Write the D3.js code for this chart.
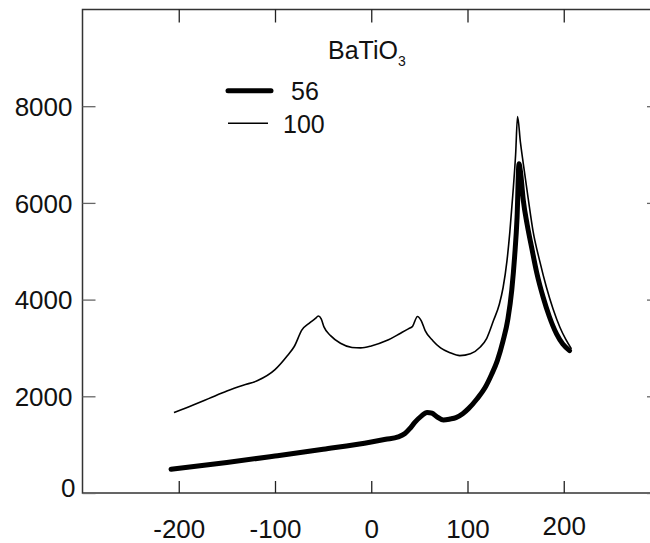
<!DOCTYPE html>
<html>
<head>
<meta charset="utf-8">
<style>
  body { margin: 0; background: #fff; }
  text { font-family: Arial, "Liberation Sans", sans-serif; fill: #111; }
</style>
</head>
<body>
<div id="chart-area"></div>

<script src="https://cdn.jsdelivr.net/npm/d3@7"></script>
<script>

    // sample 56 (thick line)
    var temp56 = [-208, -150, -100, -50, 0, 15, 28, 35, 40, 45, 52, 58, 63, 68, 75, 82, 88, 95, 101, 110, 118, 125, 131, 137, 142, 146, 149, 151.5, 153.5, 155, 158, 162, 166.6, 172, 178.6, 185, 192.5, 199, 206];
    var eps56  = [490, 630, 765, 905, 1055, 1110, 1160, 1230, 1330, 1456, 1590, 1667, 1650, 1580, 1510, 1530, 1559, 1640, 1745, 1950, 2170, 2450, 2738, 3150, 3600, 4200, 4900, 5700, 6810, 6650, 6048, 5550, 5082, 4550, 4048, 3650, 3290, 3080, 2945];

    // sample 100 (thin line)
    var temp100 = [-205, -185, -169, -150, -133, -118, -100, -87, -80, -72, -64, -58, -55, -52, -49, -42, -32, -20, -11, 0, 16, 30, 39, 43, 48, 52, 56, 64, 72, 82, 92, 103, 113, 120, 127, 133, 137, 141, 144, 147, 150, 152, 155, 158, 163, 168, 175, 182, 189, 196, 202, 208];
    var eps100  = [1663, 1820, 1952, 2110, 2230, 2325, 2550, 2842, 3030, 3373, 3520, 3610, 3660, 3600, 3430, 3250, 3096, 3010, 3001, 3040, 3152, 3300, 3400, 3450, 3650, 3560, 3359, 3150, 3000, 2900, 2842, 2880, 3014, 3200, 3566, 3900, 4250, 4800, 5400, 6150, 7000, 7785, 7250, 6807, 6100, 5427, 4800, 4255, 3800, 3427, 3180, 2980];

    var xTicks = [-200, -100, 0, 100, 200];
    var yTicks = [0, 2000, 4000, 6000, 8000];
    var legendLabels = ["56", "100"];

    const width = 650;
    const height = 543;

    const svg = d3.select("#chart-area")
        .append("svg")
            .attr("width", width)
            .attr("height", height);

    const x = d3.scaleLinear().domain([-300, 300]).range([82.5, 660]);
    const y = d3.scaleLinear().domain([0, 10000]).range([493, 9.5]);

    // frame (right side falls outside the picture)
    svg.append("rect")
        .attr("x", x(-300)).attr("y", y(10000))
        .attr("width", x(300) - x(-300)).attr("height", y(0) - y(10000))
        .attr("fill", "none")
        .attr("stroke", "#333")
        .attr("stroke-width", 1.5);

    // bottom axis: inward ticks + labels
    const xb = svg.append("g").attr("transform", `translate(0, ${y(0)})`)
        .call(d3.axisBottom(x).tickValues(xTicks).tickSizeInner(-12).tickSizeOuter(0)
            .tickFormat(d => d));
    xb.select(".domain").remove();
    xb.selectAll("line").attr("stroke", "#222").attr("stroke-width", 1.3);
    xb.selectAll("text")
        .attr("y", d => d === 200 ? 42 : 45)
        .attr("dy", 0)
        .attr("font-size", "26px")
        .attr("fill", "#111");

    // top ticks
    const xt = svg.append("g").attr("transform", `translate(0, ${y(10000)})`)
        .call(d3.axisTop(x).tickValues(xTicks).tickSizeInner(-13).tickSizeOuter(0).tickFormat(""));
    xt.select(".domain").remove();
    xt.selectAll("line").attr("stroke", "#222").attr("stroke-width", 1.3);

    // left axis
    const yl = svg.append("g").attr("transform", `translate(${x(-300)}, 0)`)
        .call(d3.axisLeft(y).tickValues(yTicks).tickSizeInner(-13).tickSizeOuter(0)
            .tickFormat(d => d));
    yl.select(".domain").remove();
    yl.selectAll("line").attr("stroke", "#666").attr("stroke-width", 1.3);
    yl.selectAll("text")
        .attr("x", d => d === 0 ? -7 : -10)
        .attr("dy", "0.35em")
        .attr("transform", d => d === 0 ? "translate(0,-6)" : null)
        .attr("font-size", "26px")
        .attr("fill", "#111");

    // right ticks
    const yr = svg.append("g").attr("transform", `translate(${x(300)}, 0)`)
        .call(d3.axisRight(y).tickValues(yTicks).tickSizeInner(-13).tickSizeOuter(0).tickFormat(""));
    yr.select(".domain").remove();
    yr.selectAll("line").attr("stroke", "#666").attr("stroke-width", 1.3);

    const line = d3.line()
        .x(d => x(d[0]))
        .y(d => y(d[1]))
        .curve(d3.curveMonotoneX);

    svg.append("path")
        .datum(d3.zip(temp100, eps100))
        .attr("fill", "none")
        .attr("stroke", "#000")
        .attr("stroke-width", 1.6)
        .attr("stroke-linejoin", "round")
        .attr("d", line);

    svg.append("path")
        .datum(d3.zip(temp56, eps56))
        .attr("fill", "none")
        .attr("stroke", "#000")
        .attr("stroke-width", 5)
        .attr("stroke-linejoin", "round")
        .attr("stroke-linecap", "round")
        .attr("d", line);

    // legend
    const title = svg.append("text")
        .attr("x", 328).attr("y", 58.5)
        .attr("font-size", "25px");
    title.append("tspan").text("BaTiO");
    title.append("tspan").attr("font-size", "14px").attr("dy", 7).text("3");

    const legendWidths = [5, 1.6];
    const legendX1 = [228, 228];
    const legendX2 = [271, 268];
    const legendTextX = [291, 283];
    legendLabels.forEach(function(lab, i) {
        var ly = 90.7 + i * 32.6;
        svg.append("line")
            .attr("x1", legendX1[i]).attr("x2", legendX2[i])
            .attr("y1", ly).attr("y2", ly)
            .attr("stroke", "#000")
            .attr("stroke-width", legendWidths[i])
            .attr("stroke-linecap", i === 0 ? "round" : "butt");
        svg.append("text")
            .attr("x", legendTextX[i]).attr("y", ly + 9.5)
            .attr("font-size", "25px")
            .text(lab);
    });

</script>
</body>
</html>
